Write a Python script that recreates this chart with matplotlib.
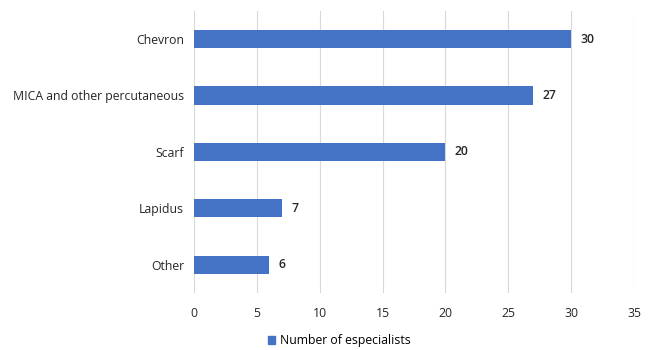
import matplotlib.pyplot as plt
from matplotlib.patches import Patch

plt.rcParams['font.family'] = ['Open Sans', 'DejaVu Sans']

# Chart data
categories = ['Chevron', 'MICA and other percutaneous', 'Scarf', 'Lapidus', 'Other']
specialists = [30, 27, 20, 7, 6]
xticks = [0, 5, 10, 15, 20, 25, 30, 35]

bar_color = '#4472C4'

fig = plt.figure(figsize=(6.53, 3.5), dpi=100)
ax = fig.add_axes([0.297, 0.163, 0.674, 0.806])

ypos = list(range(len(categories)))[::-1]
ax.barh(ypos, specialists, height=0.32, color=bar_color, zorder=3)

for y, v in zip(ypos, specialists):
    ax.text(v + 0.75, y, str(v), va='center', ha='left', fontsize=8.8,
            fontweight='semibold', color='#262626')

ax.set_yticks(ypos)
ax.set_yticklabels(categories, fontsize=8.8, color='#262626')
ax.set_xticks(xticks)
ax.set_xticklabels([str(t) for t in xticks], fontsize=8.8, color='#262626')
ax.set_xlim(0, 35)
ax.set_ylim(-0.5, len(categories) - 0.5)

ax.grid(axis='x', color='#D9D9D9', linewidth=0.8, zorder=0)
for s in ax.spines.values():
    s.set_visible(False)
ax.tick_params(axis='x', length=0, pad=10)
ax.tick_params(axis='y', length=0, pad=7)

handle = Patch(color=bar_color, label='Number of especialists')
fig.legend(handles=[handle], loc='center', bbox_to_anchor=(0.52, 0.027),
           frameon=False, fontsize=8.8, handlelength=0.6, handleheight=0.6,
           handletextpad=0.4)

fig.savefig('out.png', dpi=100)
